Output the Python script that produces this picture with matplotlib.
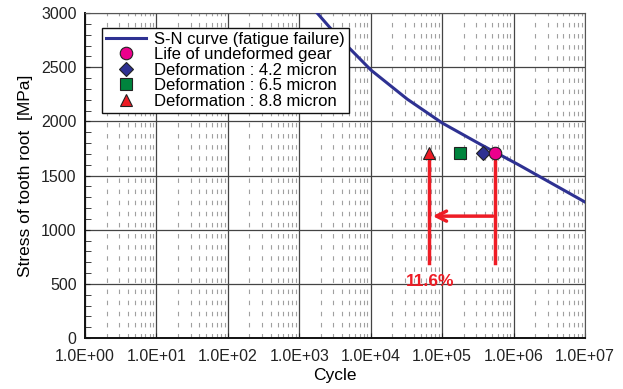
import numpy as np
import matplotlib.pyplot as plt
from matplotlib.ticker import FixedLocator, FuncFormatter, MultipleLocator

plt.rcParams['font.family'] = ['Liberation Sans', 'DejaVu Sans']

# S-N curve (log10 of cycles vs stress)
sn_logn = [3.25, 3.5, 4.0, 4.5, 5.0, 5.5, 6.0, 6.5, 7.0]
sn_stress = [3000, 2810, 2475, 2210, 1985, 1800, 1625, 1440, 1255]

# test points, all at the same root stress
point_stress = 1710
life_undeformed = 5.5e5
life_42 = 3.7e5
life_65 = 1.8e5
life_88 = 6.6e4

arrow_bottom = 690
arrow_level = 1125
reduction_label = "11.6%"

fig = plt.figure(figsize=(6.23, 3.89), dpi=100)
ax = fig.add_axes([85 / 623, 1 - 338 / 389, 500 / 623, 325 / 389])

ax.set_xscale('log')
ax.set_xlim(1, 1e7)
ax.set_ylim(0, 3000)

# smooth curve through the read points
xs = np.linspace(sn_logn[0], sn_logn[-1], 200)
ys = np.interp(xs, sn_logn, sn_stress)
ax.plot(10 ** xs, ys, color='#2e3192', lw=2.2, label='S-N curve (fatigue failure)', zorder=4)

red = '#ee1c25'
ax.plot([life_88, life_88], [arrow_bottom, point_stress - 60], color=red, lw=2.5, zorder=3)
ax.plot([life_undeformed, life_undeformed], [arrow_bottom, point_stress - 40], color=red, lw=2.5, zorder=3)
ax.annotate('', xy=(life_88 * 1.02, arrow_level), xytext=(life_undeformed * 1.02, arrow_level),
            arrowprops=dict(arrowstyle='->', color=red, lw=2.5, mutation_scale=18), zorder=3)
ax.text(life_88 * 1.03, 517, reduction_label, color=red, fontsize=12.5, fontweight='bold',
        ha='center', va='center', zorder=5)

ax.plot(life_undeformed, point_stress, 'o', ms=9, mfc='#ec008c', mec='#222', mew=0.8,
        label='Life of undeformed gear', zorder=6)
ax.plot(life_42, point_stress, 'D', ms=7, mfc='#2e3192', mec='#222', mew=0.8,
        label='Deformation : 4.2 micron', zorder=5)
ax.plot(life_65, point_stress, 's', ms=9, mfc='#00843d', mec='#222', mew=0.8,
        label='Deformation : 6.5 micron', zorder=5)
ax.plot(life_88, point_stress, '^', ms=9, mfc=red, mec='#222', mew=0.8,
        label='Deformation : 8.8 micron', zorder=5)

# grid: solid decades, dashed minor cycles
ax.xaxis.set_major_locator(FixedLocator([10.0 ** k for k in range(8)]))
ax.xaxis.set_minor_locator(FixedLocator([m * 10.0 ** k for k in range(7) for m in range(2, 10)]))
ax.xaxis.set_major_formatter(FuncFormatter(lambda v, p: f"{v:.1E}"))
ax.yaxis.set_major_locator(MultipleLocator(500))
ax.yaxis.set_minor_locator(MultipleLocator(100))
ax.grid(which='major', color='#444444', lw=0.9)
ax.grid(which='minor', axis='x', color='#a0a0a0', lw=0.8, linestyle=(0, (4, 6)))
ax.set_axisbelow(True)

ax.tick_params(which='both', direction='in', labelsize=11.5, colors='#222')
ax.tick_params(axis='x', which='minor', length=0)
ax.tick_params(axis='y', which='minor', length=4)
ax.tick_params(axis='x', which='major', pad=8)
ax.tick_params(axis='y', which='major', pad=6)
for s in ['left', 'bottom']:
    ax.spines[s].set_linewidth(1.4)
    ax.spines[s].set_color('#111')
for s in ['top', 'right']:
    ax.spines[s].set_color('#555')

ax.set_xlabel('Cycle', fontsize=12.5, labelpad=3)
ax.set_ylabel('Stress of tooth root  [MPa]', fontsize=12.5, labelpad=6)

leg = ax.legend(loc='upper left', bbox_to_anchor=(0.034, 0.955), fontsize=12, frameon=True,
                fancybox=False, edgecolor='#111', framealpha=1, labelspacing=0.03,
                handlelength=2.4, handletextpad=0.5, borderpad=0.25, borderaxespad=0)
leg.get_frame().set_linewidth(1.0)

fig.savefig('out.png', dpi=100)
